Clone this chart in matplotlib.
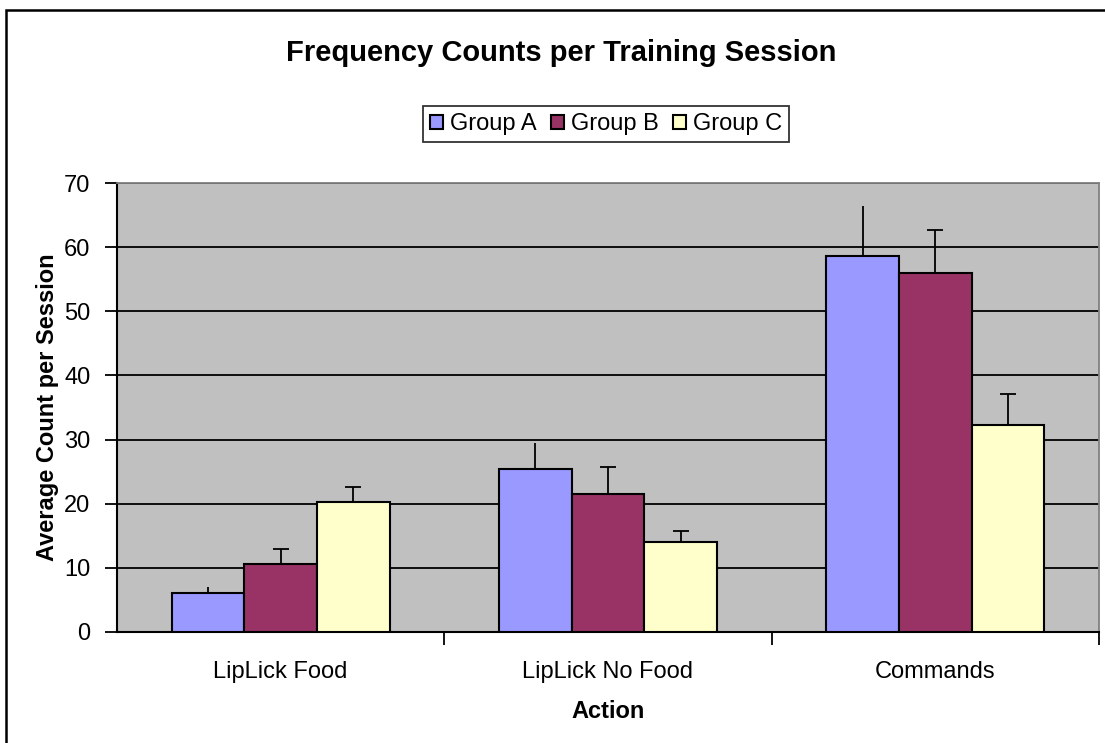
import matplotlib
matplotlib.use("Agg")
import matplotlib.pyplot as plt
import numpy as np
from matplotlib.patches import Rectangle

plt.rcParams['font.family'] = ['Liberation Sans', 'DejaVu Sans']

categories = ["LipLick Food", "LipLick No Food", "Commands"]
groups = ["Group A", "Group B", "Group C"]
group_a = [6.1, 25.4, 58.6]
group_b = [10.6, 21.5, 56.0]
group_c = [20.3, 14.1, 32.2]
err_a = [0.95, 4.0, 7.8]
err_b = [2.3, 4.3, 6.6]
err_c = [2.35, 1.7, 4.9]
colors = ["#9999FF", "#993366", "#FFFFCC"]
yticks = [0, 10, 20, 30, 40, 50, 60, 70]

fs = 17
fig = plt.figure(figsize=(11.05, 7.43), dpi=100)
fig.patch.set_facecolor("white")
W, H = 1105, 743
# figure border
fig.add_artist(Rectangle((6 / W, -0.01), 1.05, 1 - 10 / H + 0.01, transform=fig.transFigure,
                         fill=False, edgecolor="black", linewidth=1.8))

ax = fig.add_axes([117 / W, 1 - 632 / H, (1099 - 117) / W, (632 - 183) / H])
ax.set_facecolor("#C0C0C0")

x = np.arange(len(categories))
bw = 1 / 4.5
series = [group_a, group_b, group_c]
errs = [err_a, err_b, err_c]
caps = [0, 6, 6]
for i, (vals, e, c) in enumerate(zip(series, errs, colors)):
    pos = x + (i - 1) * bw
    ax.bar(pos, vals, width=bw, color=c, edgecolor="black", linewidth=1.5, zorder=3, label=groups[i])
    ax.errorbar(pos, vals, yerr=[np.zeros(len(vals)), e], fmt="none", ecolor="black",
                elinewidth=1.3, capsize=caps[i], capthick=1.3, zorder=4)

ax.set_xlim(-0.5, 2.5)
ax.set_ylim(0, 70)
ax.set_yticks(yticks)
ax.set_yticklabels([str(t) for t in yticks], fontsize=fs)
ax.yaxis.grid(True, color="black", linewidth=1.3, zorder=1)
ax.set_axisbelow(True)

ax.set_xticks([0.5, 1.5, 2.5], minor=False)
ax.set_xticklabels([])
ax.set_xticks(x, minor=True)
ax.set_xticklabels(categories, minor=True, fontsize=fs)
ax.tick_params(axis="x", which="minor", length=0, pad=21)
ax.tick_params(axis="x", which="major", length=9, width=1.3, direction="out")
ax.tick_params(axis="y", length=9, width=1.3, direction="out", pad=10)

for s in ["left", "bottom"]:
    ax.spines[s].set_color("black")
    ax.spines[s].set_linewidth(1.5)
for s in ["top", "right"]:
    ax.spines[s].set_color("#808080")
    ax.spines[s].set_linewidth(1.3)

ax.set_ylabel("Average Count per Session", fontsize=fs, fontweight="bold")
ax.yaxis.set_label_coords((48 - 117) / (1099 - 117), 0.5)
ax.set_xlabel("Action", fontsize=fs, fontweight="bold")
ax.xaxis.set_label_coords(0.5, -(712 - 632) / (632 - 183))
ax.xaxis.label.set_va("center")
ax.yaxis.label.set_va("center")

fig.text(561 / W, 1 - 53 / H, "Frequency Counts per Training Session", ha="center", va="center",
         fontsize=21, fontweight="bold")

leg = fig.legend(loc="center", bbox_to_anchor=(606 / W, 1 - 124 / H), ncol=3, fontsize=fs,
                 frameon=True, fancybox=False, edgecolor="black", handlelength=0.55,
                 handleheight=0.55, handletextpad=0.3, columnspacing=0.6, borderpad=0.3)
leg.get_frame().set_linewidth(1.3)

fig.savefig("out.png", dpi=100, facecolor="white")
